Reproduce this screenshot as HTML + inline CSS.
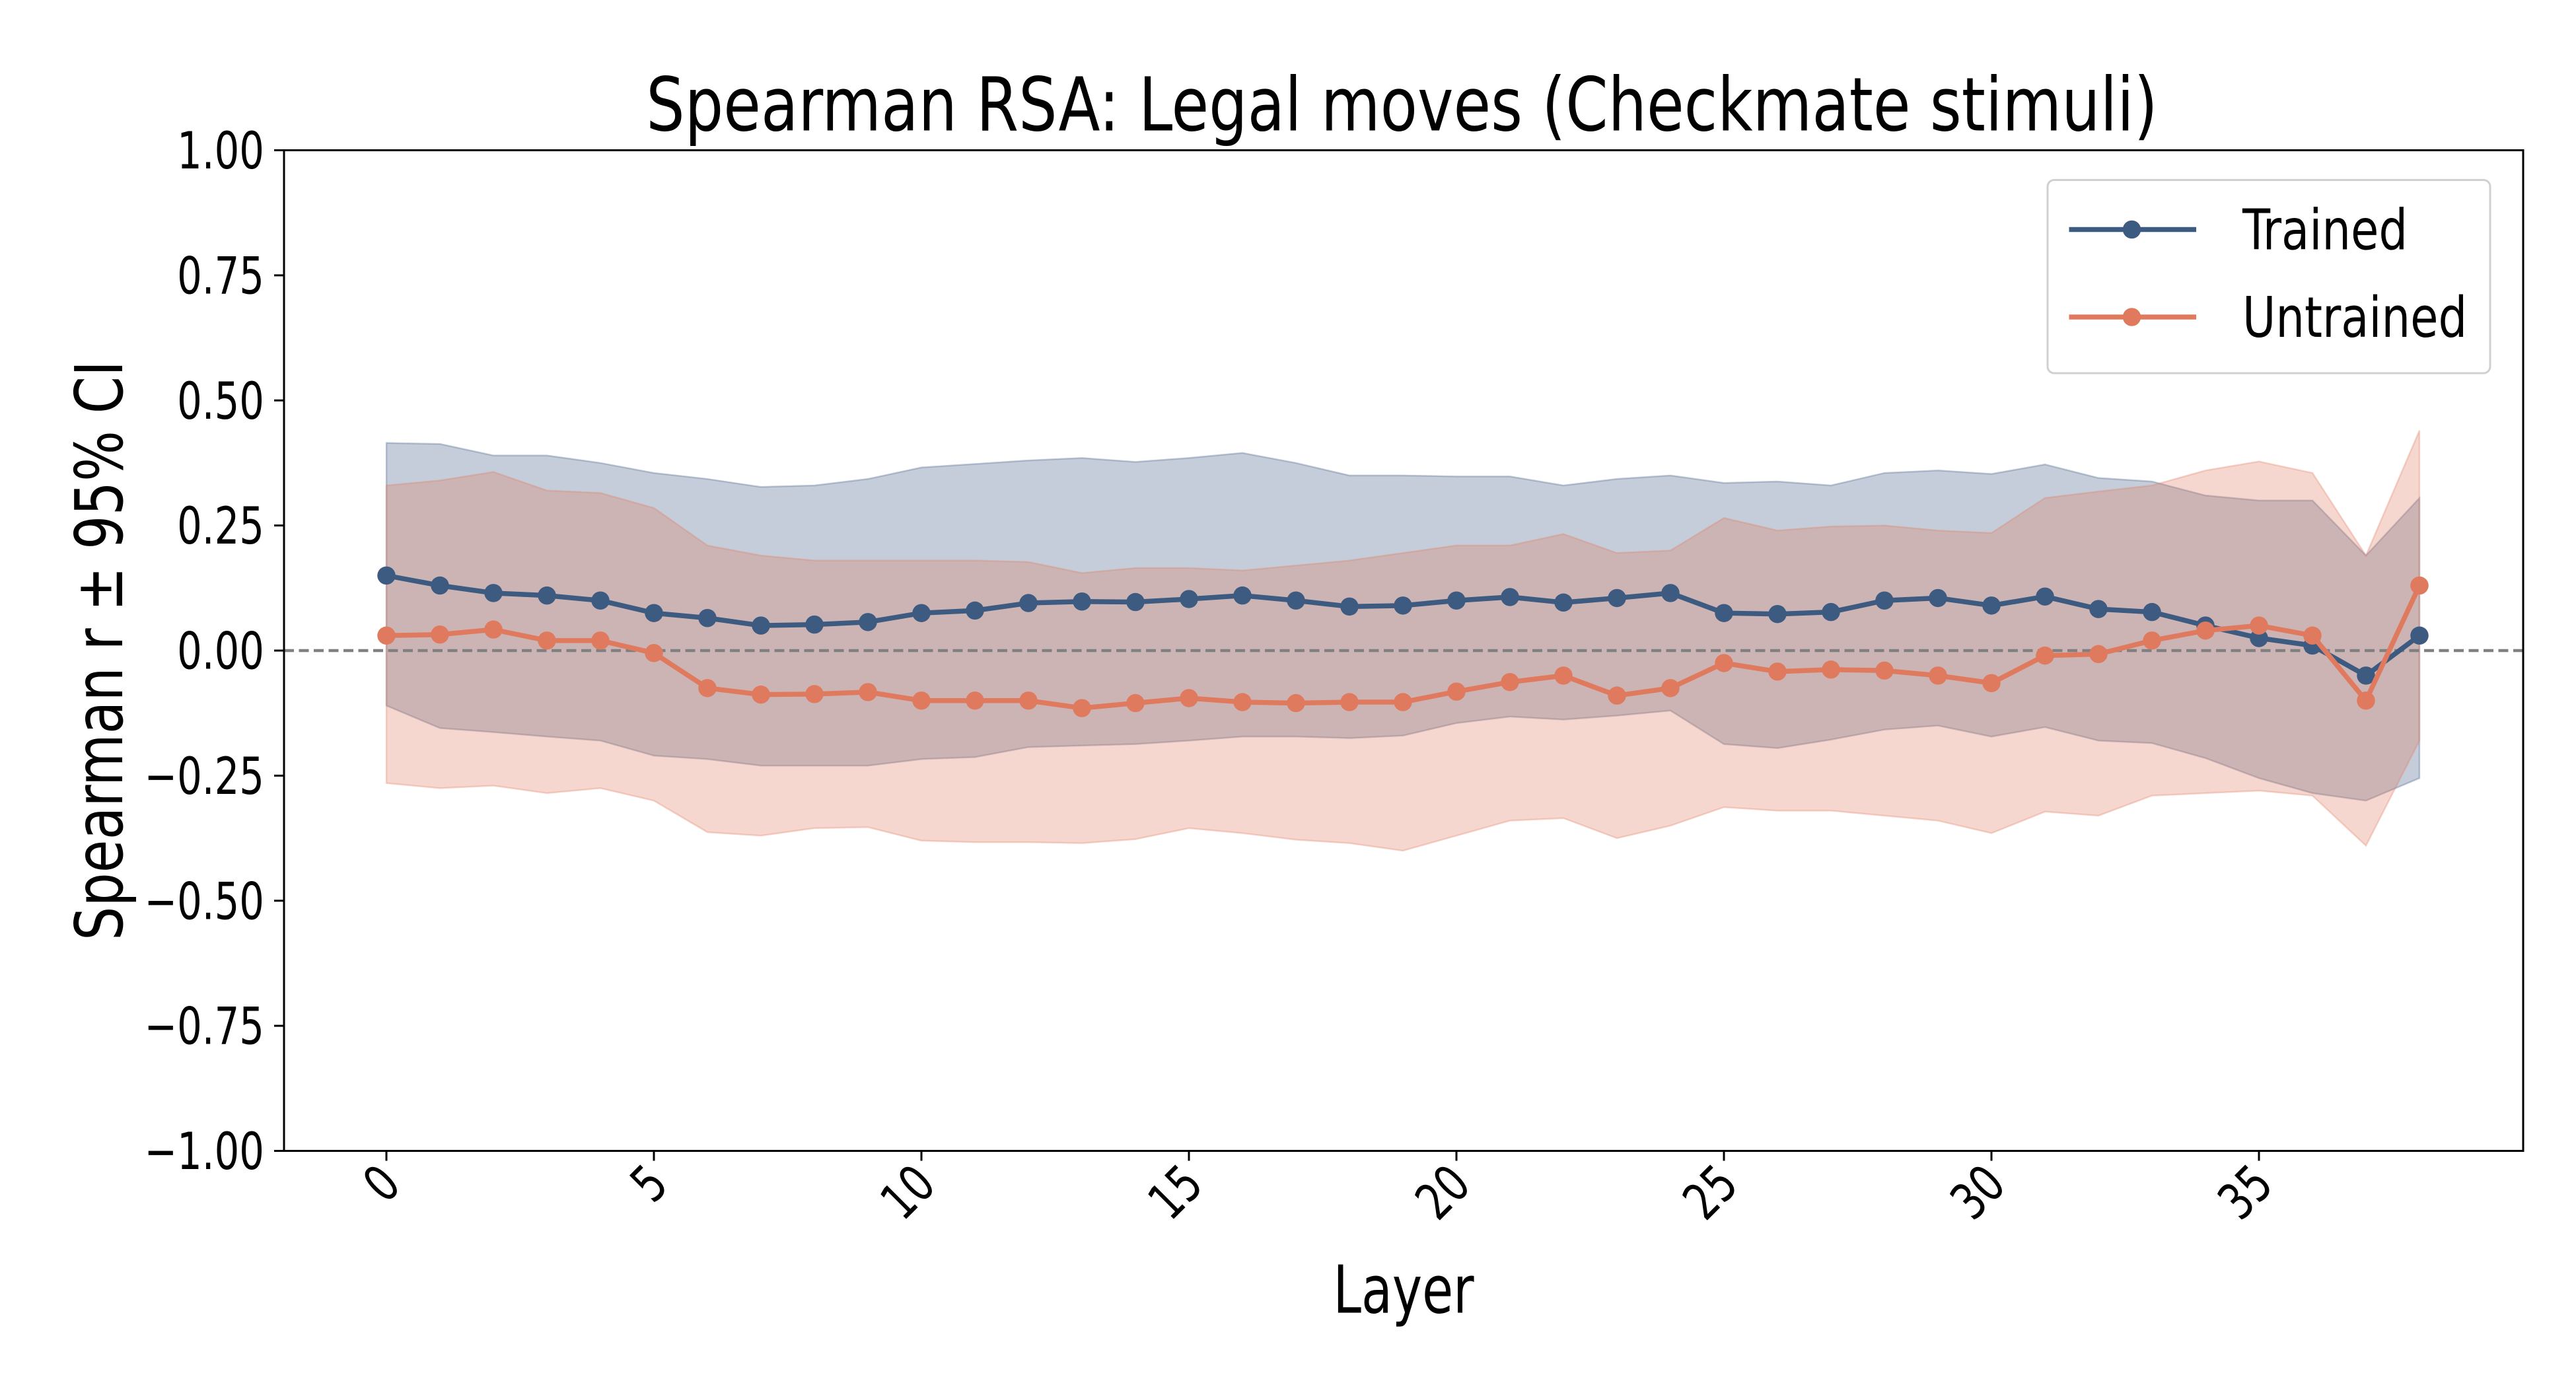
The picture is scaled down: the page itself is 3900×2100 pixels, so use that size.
<!DOCTYPE html>
<html><head><meta charset="utf-8"><style>
html,body{margin:0;padding:0;background:#fff;}
svg{display:block;}
text{font-family:"Liberation Sans Narrow","DejaVu Sans Condensed","Liberation Sans",sans-serif;fill:#000;}
</style></head><body>
<svg id="chart" width="3900" height="2100" viewBox="0 0 1560 840" xmlns="http://www.w3.org/2000/svg"></svg>
<script>
const layers = Array.from({length:39},(_,i)=>i);
const trainedMean = [0.15,0.13,0.115,0.11,0.10,0.075,0.065,0.05,0.052,0.057,0.075,0.08,0.095,0.098,0.097,0.103,0.11,0.10,0.088,0.09,0.10,0.107,0.096,0.105,0.115,0.075,0.073,0.077,0.10,0.105,0.09,0.108,0.083,0.077,0.05,0.025,0.01,-0.05,0.03];
const trainedUpper = [0.415,0.413,0.39,0.39,0.375,0.355,0.343,0.327,0.33,0.343,0.366,0.373,0.38,0.385,0.377,0.385,0.395,0.375,0.35,0.35,0.348,0.348,0.33,0.343,0.35,0.335,0.338,0.33,0.355,0.36,0.353,0.372,0.345,0.338,0.31,0.30,0.30,0.19,0.305];
const trainedLower = [-0.11,-0.155,-0.163,-0.172,-0.18,-0.21,-0.217,-0.23,-0.23,-0.23,-0.217,-0.213,-0.193,-0.19,-0.187,-0.18,-0.172,-0.172,-0.175,-0.17,-0.145,-0.132,-0.138,-0.13,-0.12,-0.187,-0.195,-0.178,-0.158,-0.15,-0.172,-0.153,-0.18,-0.185,-0.215,-0.255,-0.285,-0.3,-0.255];
const untrainedMean = [0.03,0.032,0.042,0.02,0.02,-0.005,-0.075,-0.088,-0.087,-0.083,-0.1,-0.1,-0.1,-0.115,-0.105,-0.095,-0.103,-0.105,-0.103,-0.103,-0.082,-0.063,-0.05,-0.09,-0.075,-0.025,-0.042,-0.038,-0.04,-0.05,-0.065,-0.01,-0.007,0.02,0.04,0.05,0.03,-0.1,0.13];
const untrainedUpper = [0.33,0.34,0.357,0.32,0.315,0.285,0.21,0.19,0.18,0.18,0.18,0.18,0.177,0.155,0.165,0.165,0.16,0.17,0.18,0.195,0.21,0.21,0.233,0.195,0.2,0.265,0.24,0.248,0.25,0.24,0.235,0.305,0.318,0.33,0.36,0.378,0.355,0.19,0.44];
const untrainedLower = [-0.265,-0.275,-0.27,-0.285,-0.275,-0.3,-0.363,-0.37,-0.355,-0.353,-0.38,-0.383,-0.383,-0.385,-0.377,-0.355,-0.365,-0.378,-0.385,-0.4,-0.37,-0.34,-0.335,-0.375,-0.35,-0.313,-0.32,-0.32,-0.33,-0.34,-0.365,-0.322,-0.33,-0.29,-0.285,-0.28,-0.29,-0.39,-0.18];
const yTicks = [1.0,0.75,0.5,0.25,0,-0.25,-0.5,-0.75,-1.0];
const yTickLabels = ["1.00","0.75","0.50","0.25","0.00","\u22120.25","\u22120.50","\u22120.75","\u22121.00"];
const xTicks = [0,5,10,15,20,25,30,35];

const L=172,R=1528,T=91,B=697;
const x = v => 234 + (v)*(1368-234)/35;
const y = v => 394 - v*(B-T)/2;
const NS="http://www.w3.org/2000/svg";
const svg=document.getElementById('chart');
function mk(tag,attrs,parent){const e=document.createElementNS(NS,tag);for(const k in attrs)e.setAttribute(k,attrs[k]);(parent||svg).appendChild(e);return e;}

function band(up,lo,color,name){
  let d='M'+layers.map((l,i)=>x(l)+','+y(up[i])).join('L');
  d+='L'+layers.slice().reverse().map(l=>x(l)+','+y(lo[l])).join('L')+'Z';
  const p=mk('path',{d:d,fill:color,'fill-opacity':0.3,stroke:color,'stroke-opacity':0.3,'stroke-width':1});
  
  
}
band(trainedUpper,trainedLower,'#3d5a80','trained-ci-band');
band(untrainedUpper,untrainedLower,'#e07a5f','untrained-ci-band');

const zl=mk('line',{x1:L,x2:R,y1:y(0),y2:y(0),stroke:'#808080','stroke-width':1.8,'stroke-dasharray':'6,3'});



function series(vals,color,name){
  const g=mk('g',{});
  
  
  const pl=mk('polyline',{points:layers.map((l,i)=>x(l)+','+y(vals[i])).join(' '),fill:'none',stroke:color,'stroke-width':3},g);
  
  
  layers.forEach((l,i)=>{
    const c=mk('circle',{cx:x(l),cy:y(vals[i]),r:5.5,fill:color},g);
    
    
  });
}
series(trainedMean,'#3d5a80','trained');
series(untrainedMean,'#e07a5f','untrained');

const fr=mk('rect',{x:L,y:T,width:R-L,height:B-T,fill:'none',stroke:'#000','stroke-width':1.2});



function ctext(px,py,str,size,sx,anchor,rot,parent){
  const t=mk('text',{x:0,y:0,'text-anchor':anchor,'font-size':size,transform:`translate(${px},${py})${rot?` rotate(${rot})`:''} scale(${sx},1)`},parent);
  t.textContent=str;
  return t;
}
yTicks.forEach((v,i)=>{
  mk('line',{x1:L-6,x2:L,y1:y(v),y2:y(v),stroke:'#000','stroke-width':1.2});
  const t=ctext(L-12,y(v)+11,yTickLabels[i],31,0.85,'end',0);
  
  
});
xTicks.forEach(v=>{
  mk('line',{x1:x(v),x2:x(v),y1:B,y2:B+6,stroke:'#000','stroke-width':1.2});
  const t=ctext(x(v)+10,B+22,String(v),31,0.85,'end',-45);
  
  
});

const title=ctext(849,79,'Spearman RSA: Legal moves (Checkmate stimuli)',45,0.91,'middle',0);


const xl=ctext(850,795,'Layer',40,0.85,'middle',0);


const yl=ctext(74,(T+B)/2,'Spearman r \u00b1 95% CI',40,0.9,'middle',-90);



const lg=mk('g',{});


mk('rect',{x:1240,y:109,width:268,height:117,rx:4,fill:'#fff','fill-opacity':0.8,stroke:'#d0d0d0','stroke-width':1.2},lg);
[['Trained','#3d5a80',139],['Untrained','#e07a5f',192]].forEach(([n,c,yy])=>{
  const e=mk('g',{},lg);
  
  
  mk('line',{x1:1253,x2:1330,y1:yy,y2:yy,stroke:c,'stroke-width':3},e);
  mk('circle',{cx:1291,cy:yy,r:5.5,fill:c},e);
  ctext(1358,yy+12,n,34,0.9,'start',0,e);
});
</script>
</body></html>
